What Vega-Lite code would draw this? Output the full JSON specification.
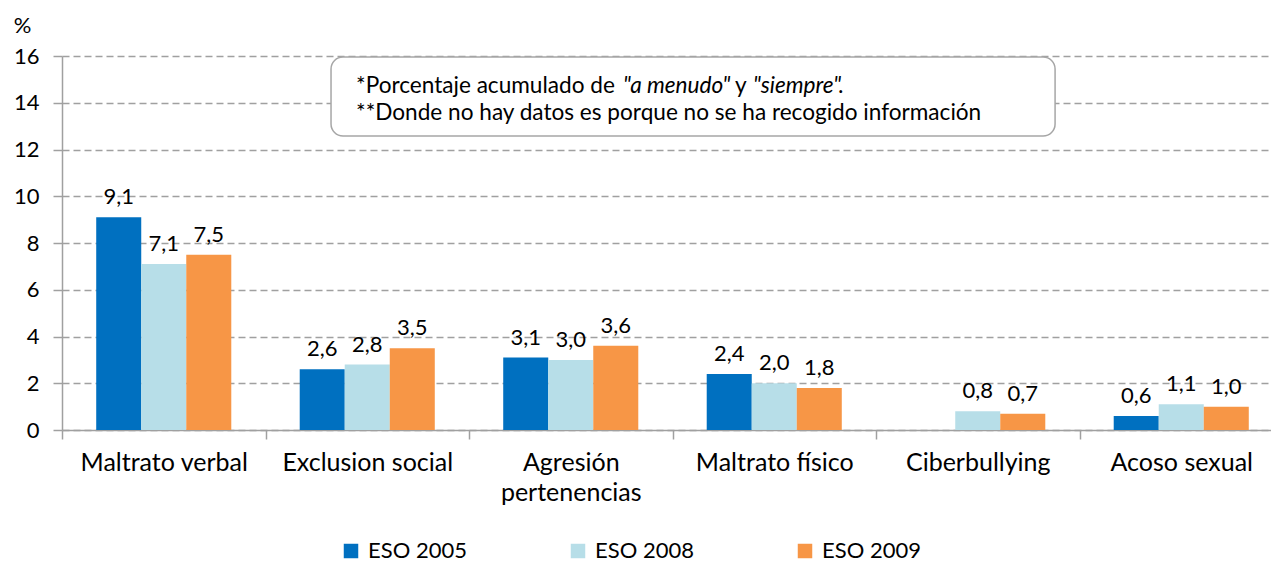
{
  "$schema": "https://vega.github.io/schema/vega-lite/v6.json",
  "width": 1209,
  "height": 374,
  "autosize": {"type": "none"},
  "padding": {"left": 62, "top": 56, "right": 0, "bottom": 132},
  "background": "white",
  "config": {
    "font": "Lato",
    "view": {"stroke": null},
    "locale": {"number": {"decimal": ",", "thousands": ".", "grouping": [3], "currency": ["", " €"]}}
  },
  "layer": [
    {
      "data": {"values": [
        {"categoria": "Maltrato verbal", "serie": "ESO 2005", "valor": 9.1},
        {"categoria": "Maltrato verbal", "serie": "ESO 2008", "valor": 7.1},
        {"categoria": "Maltrato verbal", "serie": "ESO 2009", "valor": 7.5},
        {"categoria": "Exclusion social", "serie": "ESO 2005", "valor": 2.6},
        {"categoria": "Exclusion social", "serie": "ESO 2008", "valor": 2.8},
        {"categoria": "Exclusion social", "serie": "ESO 2009", "valor": 3.5},
        {"categoria": "Agresión pertenencias", "serie": "ESO 2005", "valor": 3.1},
        {"categoria": "Agresión pertenencias", "serie": "ESO 2008", "valor": 3.0},
        {"categoria": "Agresión pertenencias", "serie": "ESO 2009", "valor": 3.6},
        {"categoria": "Maltrato físico", "serie": "ESO 2005", "valor": 2.4},
        {"categoria": "Maltrato físico", "serie": "ESO 2008", "valor": 2.0},
        {"categoria": "Maltrato físico", "serie": "ESO 2009", "valor": 1.8},
        {"categoria": "Ciberbullying", "serie": "ESO 2008", "valor": 0.8},
        {"categoria": "Ciberbullying", "serie": "ESO 2009", "valor": 0.7},
        {"categoria": "Acoso sexual", "serie": "ESO 2005", "valor": 0.6},
        {"categoria": "Acoso sexual", "serie": "ESO 2008", "valor": 1.1},
        {"categoria": "Acoso sexual", "serie": "ESO 2009", "valor": 1.0}
      ]},
      "encoding": {
        "x": {
          "field": "categoria", "type": "nominal",
          "sort": ["Maltrato verbal", "Exclusion social", "Agresión pertenencias", "Maltrato físico", "Ciberbullying", "Acoso sexual"],
          "scale": {"range": [0, 1221], "paddingInner": 0, "paddingOuter": 0},
          "axis": {
            "title": null, "labelAngle": 0, "grid": false,
            "domainColor": "#A0A0A0", "domainWidth": 1.5,
            "ticks": true, "tickBand": "extent", "tickSize": 9, "tickColor": "#A0A0A0", "tickWidth": 1.5,
            "labelFontSize": 25, "labelColor": "#000000", "labelPadding": 11, "labelLineHeight": 30,
            "labelExpr": "datum.label == 'Agresión pertenencias' ? ['Agresión', 'pertenencias'] : datum.label"
          }
        },
        "xOffset": {"field": "serie", "type": "nominal", "scale": {"paddingInner": 0, "paddingOuter": 0.76}},
        "y": {
          "field": "valor", "type": "quantitative",
          "scale": {"domain": [0, 16], "nice": false},
          "axis": {
            "values": [0, 2, 4, 6, 8, 10, 12, 14, 16],
            "title": "%", "titleAngle": 0, "titleX": -40, "titleY": -31, "titleAlign": "center", "titleBaseline": "middle",
            "titleFontSize": 22, "titleFontWeight": "normal", "titleColor": "#000000",
            "grid": true, "gridDash": [7, 4], "gridColor": "#A0A0A0", "gridWidth": 1.3,
            "domainColor": "#A0A0A0", "domainWidth": 1.5,
            "tickSize": 9, "tickColor": "#A0A0A0", "tickWidth": 1.5,
            "labelFontSize": 22, "labelColor": "#000000", "labelPadding": 14
          }
        }
      },
      "layer": [
        {
          "mark": {"type": "bar"},
          "encoding": {
            "color": {
              "field": "serie", "type": "nominal",
              "scale": {"domain": ["ESO 2005", "ESO 2008", "ESO 2009"], "range": ["#0070C0", "#B7DEE8", "#F79646"]},
              "legend": {
                "orient": "none", "legendX": 278, "legendY": 484, "direction": "horizontal", "title": null,
                "symbolType": "square", "symbolSize": 210, "symbolStrokeWidth": 0, "symbolOpacity": 1,
                "labelFontSize": 22, "labelColor": "#000000", "labelOffset": 6, "columnPadding": 100
              }
            }
          }
        },
        {
          "mark": {"type": "text", "baseline": "bottom", "dy": -8, "fontSize": 22, "color": "#000000"},
          "encoding": {"text": {"field": "valor", "type": "quantitative", "format": ".1f"}}
        }
      ]
    },
    {
      "data": {"values": [{}]},
      "layer": [
        {
          "mark": {"type": "rect", "fill": "#FFFFFF", "stroke": "#A6A6A6", "strokeWidth": 1.5, "cornerRadius": 12},
          "encoding": {
            "x": {"datum": 1.322, "type": "quantitative", "scale": {"domain": [0, 6], "range": [0, 1221]}, "axis": null},
            "x2": {"datum": 4.88},
            "y": {"datum": 15.96, "type": "quantitative"},
            "y2": {"datum": 12.58}
          }
        },
        {
          "mark": {"type": "text", "align": "left", "baseline": "middle", "fontSize": 22.6, "color": "#000000"},
          "encoding": {
            "x": {"datum": 1.445, "type": "quantitative"},
            "y": {"datum": 14.73, "type": "quantitative"},
            "text": {"value": "*Porcentaje acumulado de"}
          }
        },
        {
          "mark": {"type": "text", "align": "left", "baseline": "middle", "fontSize": 22.6, "fontStyle": "italic", "color": "#000000"},
          "encoding": {
            "x": {"datum": 2.757, "type": "quantitative"},
            "y": {"datum": 14.73, "type": "quantitative"},
            "text": {"value": "\"a menudo\""}
          }
        },
        {
          "mark": {"type": "text", "align": "left", "baseline": "middle", "fontSize": 22.6, "color": "#000000"},
          "encoding": {
            "x": {"datum": 3.307, "type": "quantitative"},
            "y": {"datum": 14.73, "type": "quantitative"},
            "text": {"value": "y"}
          }
        },
        {
          "mark": {"type": "text", "align": "left", "baseline": "middle", "fontSize": 22.6, "fontStyle": "italic", "color": "#000000"},
          "encoding": {
            "x": {"datum": 3.396, "type": "quantitative"},
            "y": {"datum": 14.73, "type": "quantitative"},
            "text": {"value": "\"siempre\"."}
          }
        },
        {
          "mark": {"type": "text", "align": "left", "baseline": "middle", "fontSize": 22.6, "color": "#000000"},
          "encoding": {
            "x": {"datum": 1.445, "type": "quantitative"},
            "y": {"datum": 13.55, "type": "quantitative"},
            "text": {"value": "**Donde no hay datos es porque no se ha recogido información"}
          }
        }
      ]
    }
  ],
  "resolve": {"scale": {"x": "independent"}}
}
